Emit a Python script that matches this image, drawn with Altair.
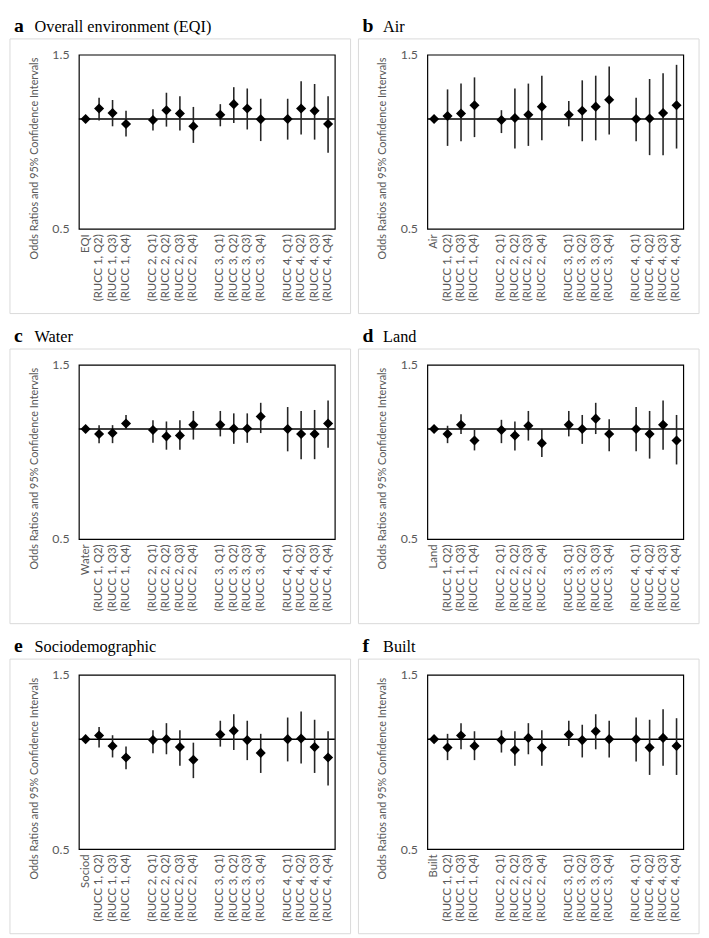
import altair as alt
import pandas as pd

letters = ["a", "b", "c", "d", "e", "f"]
titles = ["Overall environment (EQI)", "Air", "Water", "Land", "Sociodemographic", "Built"]
first_labels = ["EQI", "Air", "Water", "Land", "Sociod", "Built"]
rucc_labels = [
    "(RUCC 1, Q2)", "(RUCC 1, Q3)", "(RUCC 1, Q4)",
    "(RUCC 2, Q1)", "(RUCC 2, Q2)", "(RUCC 2, Q3)", "(RUCC 2, Q4)",
    "(RUCC 3, Q1)", "(RUCC 3, Q2)", "(RUCC 3, Q3)", "(RUCC 3, Q4)",
    "(RUCC 4, Q1)", "(RUCC 4, Q2)", "(RUCC 4, Q3)", "(RUCC 4, Q4)",
]

# Odds ratios and 95% CI (first entry = overall domain index, no interval drawn)
eqi_or = [1.000, 1.068, 1.038, 0.969, 0.994, 1.057, 1.035, 0.955, 1.027, 1.098, 1.068, 0.998, 1.000, 1.068, 1.053, 0.969]
eqi_lo = [1.000, 0.990, 0.955, 0.896, 0.930, 0.953, 0.930, 0.860, 0.955, 0.975, 0.936, 0.870, 0.878, 0.907, 0.878, 0.808]
eqi_hi = [1.000, 1.144, 1.127, 1.053, 1.064, 1.180, 1.155, 1.079, 1.098, 1.222, 1.212, 1.136, 1.136, 1.268, 1.247, 1.155]

air_or = [1.000, 1.019, 1.035, 1.091, 0.994, 1.006, 1.027, 1.081, 1.027, 1.053, 1.081, 1.129, 1.000, 1.003, 1.038, 1.091]
air_lo = [1.000, 0.844, 0.869, 0.892, 0.915, 0.830, 0.844, 0.874, 0.955, 0.869, 0.874, 0.907, 0.869, 0.796, 0.796, 0.830]
air_hi = [1.000, 1.205, 1.250, 1.300, 1.057, 1.212, 1.250, 1.314, 1.120, 1.276, 1.314, 1.392, 1.144, 1.287, 1.335, 1.407]

water_or = [1.000, 0.969, 0.975, 1.036, 0.994, 0.955, 0.960, 1.027, 1.027, 1.004, 1.004, 1.082, 1.000, 0.969, 0.969, 1.036]
water_lo = [1.000, 0.915, 0.915, 1.000, 0.917, 0.878, 0.878, 0.936, 0.955, 0.911, 0.917, 0.975, 0.869, 0.827, 0.827, 0.889]
water_hi = [1.000, 1.025, 1.025, 1.093, 1.057, 1.049, 1.057, 1.121, 1.121, 1.104, 1.104, 1.180, 1.149, 1.121, 1.128, 1.197]

land_or = [1.000, 0.969, 1.027, 0.930, 0.994, 0.960, 1.021, 0.915, 1.027, 1.000, 1.068, 0.969, 1.000, 0.969, 1.027, 0.930]
land_lo = [1.000, 0.915, 0.969, 0.874, 0.915, 0.874, 0.930, 0.839, 0.955, 0.911, 0.969, 0.870, 0.870, 0.830, 0.878, 0.800]
land_hi = [1.000, 1.021, 1.098, 0.994, 1.060, 1.049, 1.121, 1.000, 1.121, 1.093, 1.180, 1.064, 1.149, 1.121, 1.197, 1.093]

socio_or = [1.000, 1.023, 0.958, 0.891, 0.994, 1.000, 0.952, 0.878, 1.029, 1.055, 0.994, 0.917, 1.000, 1.004, 0.952, 0.891]
socio_lo = [1.000, 0.948, 0.891, 0.827, 0.915, 0.909, 0.846, 0.782, 0.954, 0.934, 0.876, 0.808, 0.869, 0.858, 0.808, 0.747]
socio_hi = [1.000, 1.079, 1.025, 0.954, 1.057, 1.106, 1.057, 0.978, 1.123, 1.170, 1.123, 1.034, 1.146, 1.190, 1.130, 1.051]

built_or = [1.000, 0.948, 1.023, 0.958, 0.994, 0.934, 1.008, 0.948, 1.029, 0.994, 1.051, 1.000, 1.000, 0.948, 1.008, 0.958]
built_lo = [1.000, 0.876, 0.938, 0.876, 0.919, 0.846, 0.909, 0.846, 0.958, 0.891, 0.938, 0.891, 0.869, 0.798, 0.846, 0.798]
built_hi = [1.000, 1.034, 1.106, 1.051, 1.057, 1.051, 1.106, 1.057, 1.123, 1.095, 1.170, 1.123, 1.146, 1.130, 1.207, 1.141]

ors = [eqi_or, air_or, water_or, land_or, socio_or, built_or]
los = [eqi_lo, air_lo, water_lo, land_lo, socio_lo, built_lo]
his = [eqi_hi, air_hi, water_hi, land_hi, socio_hi, built_hi]
y_ticks = [0.5, 1.5]

SANS = "Lato"
SERIF = "Liberation Serif"
GREY = "#595959"
W, H = 260, 177


def panel(i):
    cats = [first_labels[i]] + rucc_labels
    df = pd.DataFrame({"cat": cats, "or": ors[i], "lo": los[i], "hi": his[i]})
    domain = ([first_labels[i]] + rucc_labels[0:3] + [" "] + rucc_labels[3:7] + ["  "]
              + rucc_labels[7:11] + ["   "] + rucc_labels[11:15])
    xaxis = alt.Axis(title=None, labelAngle=-90, ticks=False, domain=False, grid=False,
                     labelColor=GREY, labelFont=SANS, labelFontSize=11.5, labelPadding=5,
                     labelLimit=300)
    xenc = alt.X("cat:N", scale=alt.Scale(domain=domain), axis=xaxis)
    yscale = alt.Scale(type="log", domain=[0.5, 1.5], nice=False)
    yaxis = alt.Axis(values=y_ticks, format=".1f", title="Odds Ratios and 95% Confidence Intervals",
                     grid=False, ticks=False, domain=False, labelColor=GREY, labelFont=SANS,
                     labelFontSize=12.5, labelPadding=10, titleColor=GREY, titleFont=SANS,
                     titleFontSize=11, titleFontWeight="normal", titleX=-45, titleY=105,
                     titleAngle=270, titleAlign="center", titleBaseline="middle")
    one = pd.DataFrame({"k": [0]})
    frame = alt.Chart(one).mark_rect(fillOpacity=0, stroke="#d9d9d9", strokeWidth=1).encode(
        x=alt.value(-70), x2=alt.value(276), y=alt.value(-16), y2=alt.value(263))
    letter = alt.Chart(one).mark_text(align="left", baseline="alphabetic", font=SERIF,
                                      fontSize=20, fontWeight="bold", color="black").encode(
        text=alt.value(letters[i]), x=alt.value(-66), y=alt.value(-23))
    ttl = alt.Chart(one).mark_text(align="left", baseline="alphabetic", font=SERIF,
                                   fontSize=16.5, color="black").encode(
        text=alt.value(titles[i]), x=alt.value(-45), y=alt.value(-23))
    ref = alt.Chart(one).mark_rule(color="black", strokeWidth=1.5).encode(
        y=alt.YDatum(1.0, scale=yscale, axis=yaxis))
    bars = alt.Chart(df).mark_rule(color="#262626", strokeWidth=1.6).encode(
        x=xenc, y=alt.Y("lo:Q", scale=yscale, axis=yaxis), y2="hi:Q")
    pts = alt.Chart(df).mark_point(shape="diamond", filled=True, color="black", opacity=1,
                                   size=105).encode(
        x=xenc, y=alt.Y("or:Q", scale=yscale, axis=yaxis))
    return alt.layer(frame, ref, bars, pts, letter, ttl).properties(width=W, height=H)


rows = [alt.hconcat(panel(2 * r), panel(2 * r + 1), spacing=4) for r in range(3)]
chart = alt.vconcat(*rows, spacing=10).properties(padding=0, background="white").configure_view(
    stroke="black", strokeWidth=1.2)

chart.save("out.html", embed_options={"renderer": "svg", "actions": False})
